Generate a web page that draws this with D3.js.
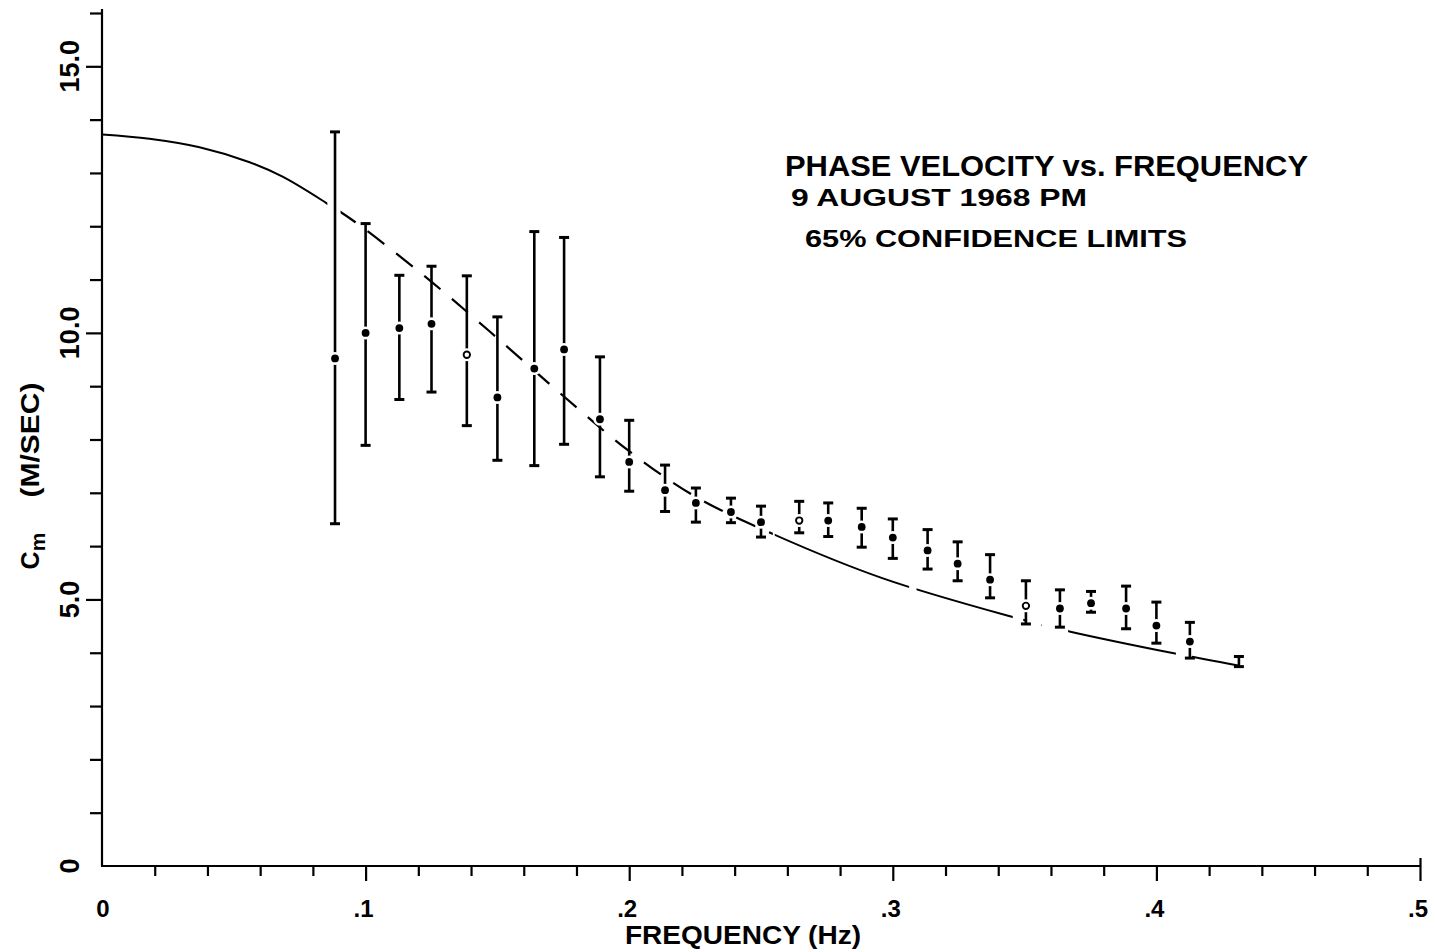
<!DOCTYPE html>
<html>
<head>
<meta charset="utf-8">
<script src="https://cdn.jsdelivr.net/npm/d3@7"></script>
<style>
  html, body { margin: 0; padding: 0; background: #fff; }
  svg { display: block; }
  text { font-family: "Liberation Sans", Arial, sans-serif; font-weight: bold; fill: #000; }
</style>
</head>
<body>
<svg id="chart" width="1435" height="952"></svg>
<script>
// ---------------- data ----------------
const freq = [0.0884, 0.1, 0.1128, 0.125, 0.1384, 0.15, 0.164, 0.1753, 0.1889, 0.2,
              0.2136, 0.2253, 0.2386, 0.25, 0.2645, 0.2755, 0.2882, 0.3, 0.3132, 0.3246,
              0.3369, 0.3505, 0.3634, 0.3752, 0.3885, 0.4, 0.4127, 0.4313];
const phaseVel = [9.52, 10.0, 10.09, 10.17, 9.59, 8.79, 9.33, 9.69, 8.38, 7.58,
                  7.05, 6.81, 6.64, 6.45, 6.48, 6.48, 6.36, 6.16, 5.92, 5.67,
                  5.37, 4.88, 4.83, 4.93, 4.83, 4.51, 4.21, 3.84];
const upperLimit = [13.77, 12.05, 11.08, 11.25, 11.07, 10.30, 11.90, 11.79, 9.55, 8.36,
                    7.52, 7.09, 6.90, 6.75, 6.84, 6.81, 6.71, 6.51, 6.31, 6.08,
                    5.84, 5.35, 5.18, 5.15, 5.25, 4.95, 4.57, 3.93];
const lowerLimit = [6.42, 7.89, 8.75, 8.89, 8.26, 7.61, 7.51, 7.91, 7.30, 7.03,
                    6.65, 6.45, 6.44, 6.17, 6.25, 6.18, 5.98, 5.77, 5.57, 5.35,
                    5.03, 4.54, 4.48, 4.76, 4.45, 4.18, 3.90, 3.74];
const openMarkers = [4, 14, 21];   // indices drawn as open circles

const theoryFreq = [0, 0.018, 0.037, 0.056, 0.0685, 0.085, 0.096, 0.1215, 0.147, 0.1747,
                    0.2, 0.2251, 0.2544, 0.296, 0.3455, 0.367, 0.4076, 0.431];
const theoryVel  = [13.72, 13.64, 13.48, 13.20, 12.93, 12.44, 12.08, 11.10, 10.03, 8.83,
                    7.78, 6.93, 6.23, 5.40, 4.67, 4.40, 3.98, 3.76];

const xTickValues = d3.range(0, 0.5001, 0.02).map(v => +v.toFixed(2));
const xTickLabels = [[0, "0"], [0.1, ".1"], [0.2, ".2"], [0.3, ".3"], [0.4, ".4"], [0.5, ".5"]];
const yTickValues = d3.range(0, 17, 1);
const yTickLabels = [[0, "0"], [5, "5.0"], [10, "10.0"], [15, "15.0"]];

const titleLines = ["PHASE VELOCITY vs. FREQUENCY", "9 AUGUST 1968 PM", "65% CONFIDENCE LIMITS"];

// ---------------- layout ----------------
const svg = d3.select("#chart");
const x = d3.scaleLinear().domain([0, 0.5]).range([102, 1420]);
const y = d3.scaleLinear().domain([0, 16]).range([866, 13]);

// ---- axes ----
const yAxis = d3.axisLeft(y).tickValues(yTickValues.filter(v => v > 0)).tickSize(12).tickFormat("");
const gy = svg.append("g").attr("transform", `translate(${x(0)},0)`).call(yAxis);
gy.select(".domain").remove();
gy.selectAll(".tick line").attr("stroke", "#000").attr("stroke-width", 2.2)
  .attr("x2", d => (d % 5 === 0 ? -16 : -12));
svg.append("line").attr("x1", x(0)).attr("x2", x(0)).attr("y1", y(0)).attr("y2", 9)
  .attr("stroke", "#000").attr("stroke-width", 2.2);

const xAxis = d3.axisBottom(x).tickValues(xTickValues.filter(v => v > 0)).tickSize(10).tickFormat("");
const gx = svg.append("g").attr("transform", `translate(0,${y(0)})`).call(xAxis);
gx.select(".domain").remove();
gx.selectAll(".tick line").attr("stroke", "#000").attr("stroke-width", 2.2)
  .attr("y2", d => (Math.abs(d * 10 - Math.round(d * 10)) < 1e-6 ? 15 : 10))
  .attr("y1", d => (d === 0.5 ? -8 : 0));
svg.append("line").attr("x1", x(0) - 1).attr("x2", x(0.5)).attr("y1", y(0)).attr("y2", y(0))
  .attr("stroke", "#000").attr("stroke-width", 2.2);

// x tick labels
svg.append("g").selectAll("text").data(xTickLabels).join("text")
  .attr("x", d => x(d[0]) + (d[0] === 0 ? 1 : -2))
  .attr("y", 917)
  .attr("text-anchor", "middle")
  .style("font-size", "24px")
  .text(d => d[1]);

// y tick labels (rotated)
svg.append("g").selectAll("text").data(yTickLabels).join("text")
  .attr("transform", d => `translate(79,${y(d[0])}) rotate(-90)`)
  .attr("text-anchor", "middle")
  .style("font-size", "27px")
  .text(d => d[1]);

// axis titles
svg.append("text").attr("x", 743).attr("y", 944).attr("text-anchor", "middle")
  .style("font-size", "25px").attr("textLength", 236).attr("lengthAdjust", "spacingAndGlyphs")
  .text("FREQUENCY (Hz)");

const yt = svg.append("text").attr("transform", "translate(39,551) rotate(-90)")
  .attr("text-anchor", "middle").style("font-size", "25px");
yt.append("tspan").text("C");
yt.append("tspan").attr("dy", 6).style("font-size", "21px").text("m");
svg.append("text").attr("transform", "translate(39,440) rotate(-90)")
  .attr("text-anchor", "middle").style("font-size", "25px")
  .attr("textLength", 115).attr("lengthAdjust", "spacingAndGlyphs").text("(M/SEC)");

// title block
svg.append("text").attr("x", 785).attr("y", 176).style("font-size", "29px")
  .attr("textLength", 523).attr("lengthAdjust", "spacingAndGlyphs").text(titleLines[0]);
svg.append("text").attr("x", 791).attr("y", 206).style("font-size", "23px")
  .attr("textLength", 296).attr("lengthAdjust", "spacingAndGlyphs").text(titleLines[1]);
svg.append("text").attr("x", 805).attr("y", 247).style("font-size", "24px")
  .attr("textLength", 382).attr("lengthAdjust", "spacingAndGlyphs").text(titleLines[2]);

// ---- theoretical curve ----
const theory = theoryFreq.map((f, i) => ({ f, v: theoryVel[i] }));
const lineGen = d3.line().x(d => x(d.f)).y(d => y(d.v)).curve(d3.curveCatmullRom.alpha(0.5));
const defs = svg.append("defs");
function clipFor(id, ranges) {
  const cp = defs.append("clipPath").attr("id", id);
  ranges.forEach(r => cp.append("rect").attr("x", x(r[0])).attr("width", x(r[1]) - x(r[0]))
    .attr("y", 0).attr("height", 952));
}
clipFor("solidClip", [[0, 0.0855], [0.2552, 0.3062], [0.309, 0.3455], [0.3665, 0.4074], [0.4135, 0.44]]);
clipFor("dashClip", [[0.0905, 0.2545], [0.3495, 0.3565]]);
svg.append("path").datum(theory).attr("d", lineGen).attr("fill", "none")
  .attr("stroke", "#000").attr("stroke-width", 2).attr("clip-path", "url(#solidClip)");
svg.append("path").datum(theory).attr("d", lineGen).attr("fill", "none")
  .attr("stroke", "#000").attr("stroke-width", 2.2).attr("stroke-dasharray", "21,15")
  .attr("clip-path", "url(#dashClip)");

// ---- error bars & points ----
const pts = freq.map((f, i) => ({ i, f, v: phaseVel[i], hi: upperLimit[i], lo: lowerLimit[i] }));
const g = svg.append("g");
g.selectAll("line.bar").data(pts).join("line").attr("class", "bar")
  .attr("x1", d => x(d.f)).attr("x2", d => x(d.f))
  .attr("y1", d => y(d.hi)).attr("y2", d => y(d.lo))
  .attr("stroke", "#000").attr("stroke-width", 2.6);
g.selectAll("line.capHi").data(pts).join("line").attr("class", "capHi")
  .attr("x1", d => x(d.f) - 5).attr("x2", d => x(d.f) + 5)
  .attr("y1", d => y(d.hi)).attr("y2", d => y(d.hi))
  .attr("stroke", "#000").attr("stroke-width", 3);
g.selectAll("line.capLo").data(pts).join("line").attr("class", "capLo")
  .attr("x1", d => x(d.f) - 5).attr("x2", d => x(d.f) + 5)
  .attr("y1", d => y(d.lo)).attr("y2", d => y(d.lo))
  .attr("stroke", "#000").attr("stroke-width", 3);
g.selectAll("circle.halo").data(pts.filter(d => d.i < pts.length - 1)).join("circle").attr("class", "halo")
  .attr("cx", d => x(d.f)).attr("cy", d => y(d.v)).attr("r", 6.5).attr("fill", "#fff");
g.selectAll("circle.pt").data(pts.filter(d => d.i < pts.length - 1)).join("circle").attr("class", "pt")
  .attr("cx", d => x(d.f)).attr("cy", d => y(d.v))
  .attr("r", d => openMarkers.includes(d.i) ? 3.2 : 3.9)
  .attr("fill", d => openMarkers.includes(d.i) ? "#fff" : "#000")
  .attr("stroke", "#000").attr("stroke-width", d => openMarkers.includes(d.i) ? 1.9 : 0);
</script>
</body>
</html>
